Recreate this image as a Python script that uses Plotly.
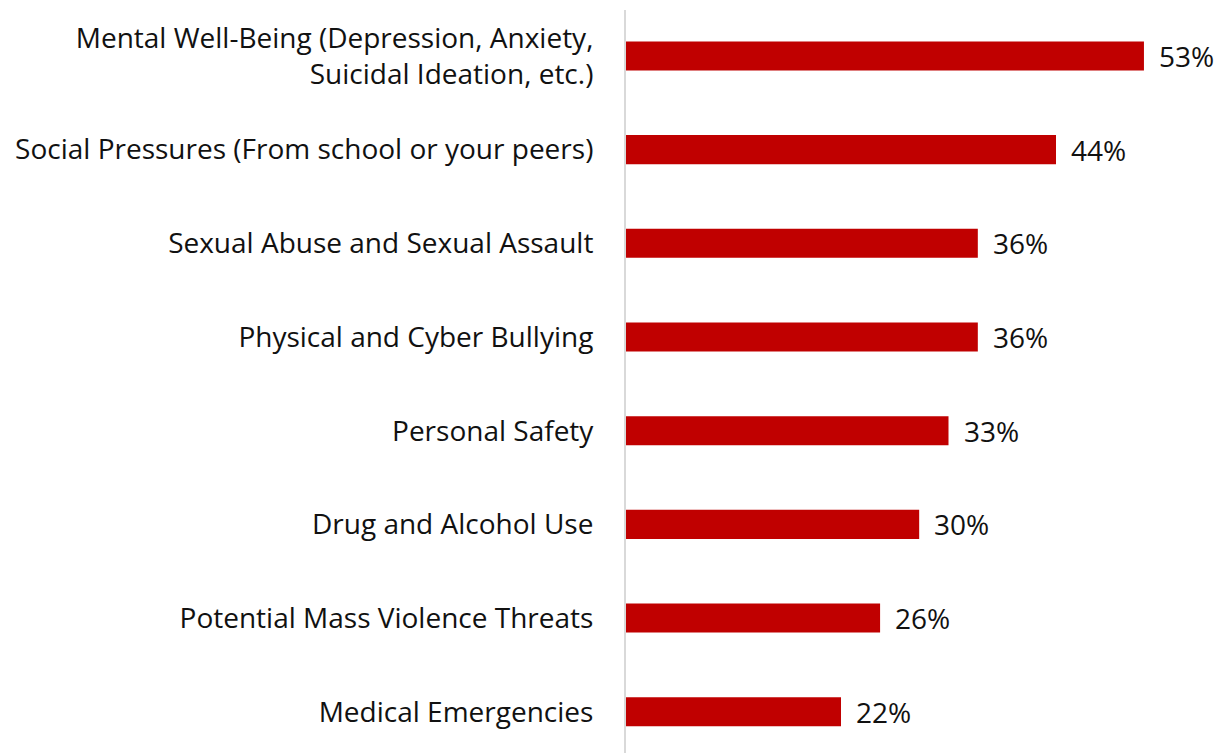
import plotly.graph_objects as go

# Share of respondents naming each concern
categories = [
    "Mental Well-Being (Depression, Anxiety,<br>Suicidal Ideation, etc.)",
    "Social Pressures (From school or your peers)",
    "Sexual Abuse and Sexual Assault",
    "Physical and Cyber Bullying",
    "Personal Safety",
    "Drug and Alcohol Use",
    "Potential Mass Violence Threats",
    "Medical Emergencies",
]
values = [53, 44, 36, 36, 33, 30, 26, 22]

BAR_COLOR = "#C00000"
FONT = "Open Sans"
FONT_SIZE = 28
TEXT_COLOR = "#111111"

positions = list(range(len(categories)))

fig = go.Figure(
    go.Bar(
        x=values,
        y=positions,
        orientation="h",
        marker=dict(color=BAR_COLOR, line=dict(width=0)),
        width=0.31,
        hoverinfo="skip",
    )
)

# Percentage labels to the right of each bar
for pos, val in zip(positions, values):
    fig.add_annotation(
        x=val, y=pos, xref="x", yref="y",
        text=f"{val}%", showarrow=False,
        xanchor="left", yanchor="middle", xshift=13,
        font=dict(family=FONT, size=FONT_SIZE, color=TEXT_COLOR),
    )

fig.update_layout(
    width=1228, height=753,
    margin=dict(l=626, r=0, t=10, b=0),
    paper_bgcolor="white", plot_bgcolor="white",
    showlegend=False,
    font=dict(family=FONT, size=FONT_SIZE, color=TEXT_COLOR),
    xaxis=dict(range=[0, 61.6], visible=False, fixedrange=True),
    yaxis=dict(
        range=[7.44, -0.49],
        tickvals=positions, ticktext=categories,
        showgrid=False, zeroline=False,
        showline=True, linecolor="#d9d9d9", linewidth=2,
        ticks="", ticklabelstandoff=25,
        tickfont=dict(family=FONT, size=FONT_SIZE, color=TEXT_COLOR),
        automargin=False, fixedrange=True,
    ),
)

fig.write_html("out.html")
